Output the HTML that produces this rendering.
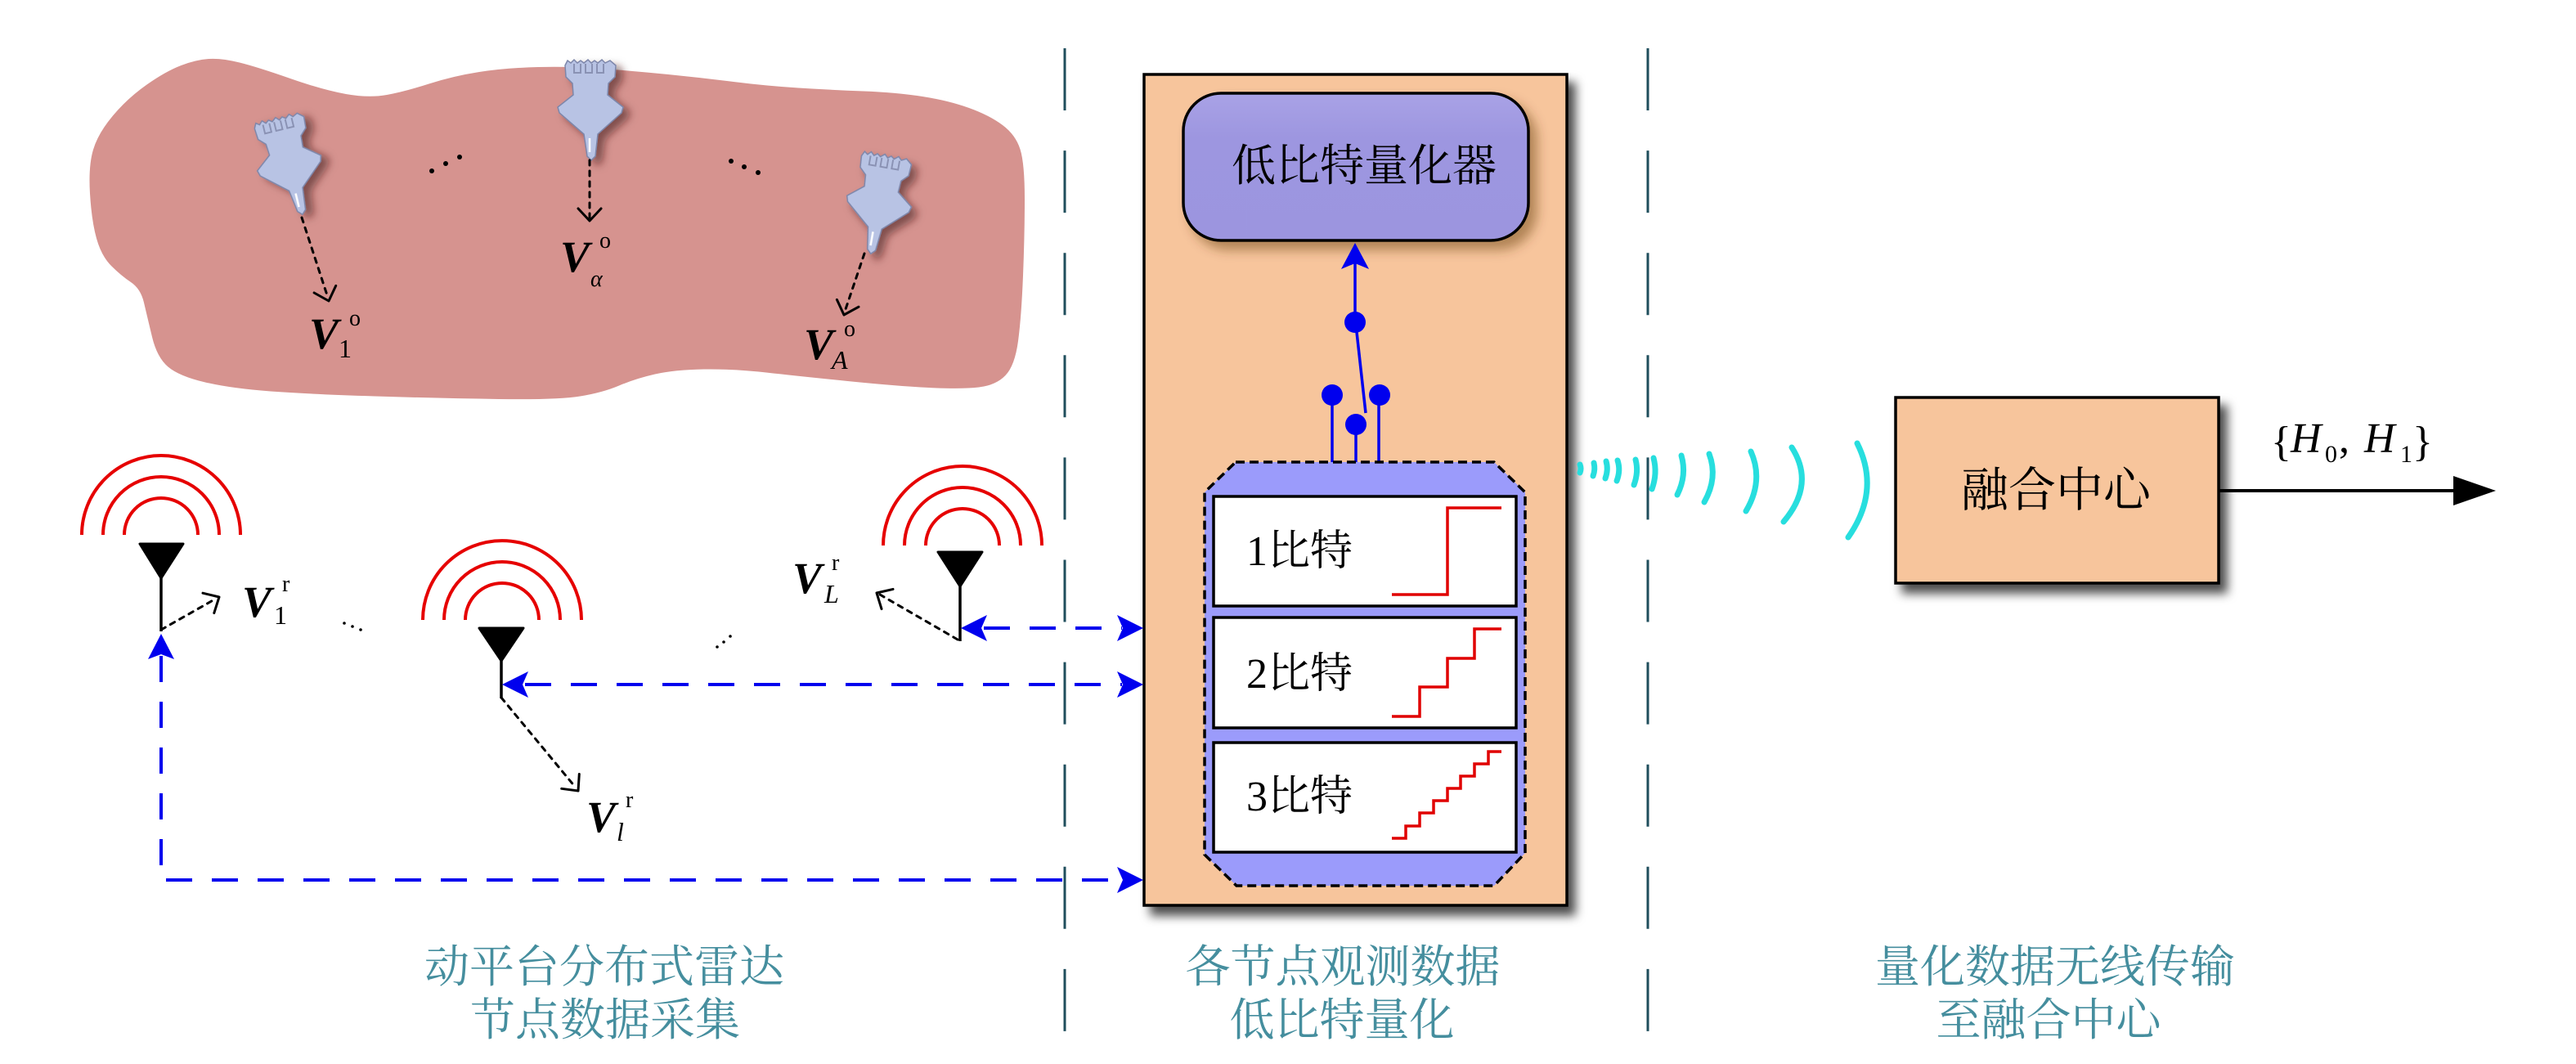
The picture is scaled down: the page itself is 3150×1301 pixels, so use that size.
<!DOCTYPE html>
<html><head><meta charset="utf-8"><style>
html,body{margin:0;padding:0;background:#fff;}
svg{display:block;}
.cjk{font-family:"Liberation Serif","Noto Serif CJK SC",serif;}
.vb{font-family:"Liberation Serif",serif;font-weight:bold;font-style:italic;font-size:54px;}
.sm{font-family:"Liberation Serif",serif;font-size:32px;}
.smi{font-family:"Liberation Serif",serif;font-size:32px;font-style:italic;}
.cap{font-family:"Liberation Serif","Noto Serif CJK SC",serif;font-size:55px;fill:#458e9e;}
</style></head><body>
<svg width="3150" height="1301" viewBox="0 0 3150 1301" xmlns="http://www.w3.org/2000/svg">
<defs>
<filter id="psh" x="-60%" y="-40%" width="220%" height="180%"><feDropShadow dx="8" dy="6" stdDeviation="5" flood-color="#3a1414" flood-opacity="0.55"/></filter>
<filter id="bsh" x="-10%" y="-10%" width="125%" height="125%"><feDropShadow dx="9" dy="11" stdDeviation="6" flood-color="#000" flood-opacity="0.7"/></filter>
<filter id="rsh" x="-10%" y="-20%" width="125%" height="150%"><feDropShadow dx="9" dy="10" stdDeviation="7" flood-color="#5a3010" flood-opacity="0.45"/></filter>
<linearGradient id="rg" x1="0" y1="0" x2="0" y2="1"><stop offset="0" stop-color="#a9a2e6"/><stop offset="0.3" stop-color="#9d96e0"/><stop offset="1" stop-color="#9c95df"/></linearGradient>
</defs>

<!-- blob -->
<path fill="#d6938f" d="M255.5,72 Q271,71 293,76.5 Q315,82 355,96 Q395,110 423,115 Q451,120 473,116 Q495,112 524.5,102.5 Q554,93 586,88 Q618,83 658,82 Q698,81 737.5,84 Q777,87 817,91 Q857,95 897,100 Q937,105 976.5,107.5 Q1016,110 1056,111.5 Q1096,113 1128,118 Q1160,123 1185,132 Q1210,141 1226,153 Q1242,165 1247.5,182.5 Q1253,200 1253,243.5 Q1253,287 1251,337 Q1249,387 1245,417 Q1241,447 1229.5,459 Q1218,471 1197,473.5 Q1176,476 1136,474 Q1096,472 1036.5,466 Q977,460 937,455.5 Q897,451 861,451.5 Q825,452 801,457.5 Q777,463 757,471.5 Q737,480 709.5,484.5 Q682,489 610,488 Q538,487 458.5,484.5 Q379,482 331,478.5 Q283,475 251,467.5 Q219,460 205.5,448.5 Q192,437 186,412 Q180,387 176,370 Q172,353 160,345 Q148,337 136,325 Q124,313 118,291.5 Q112,270 110,236.5 Q108,203 114,183 Q120,163 138,141.5 Q156,120 179.5,103.5 Q203,87 221.5,80 Q240,73 255.5,72 Z"/>

<!-- aircraft -->
<g transform="translate(340,144) rotate(-13.7)" filter="url(#psh)">
<path d="M-31,6 L-28,0 L-24,3 L-20,-1 L-16,3 L-12,0 L-8,3 L-3,-1 L1,3 L5,0 L9,3 L14,-1 L18,3 L24,0 L31,6 L30,20 L22,28 L21,42 L40,57 L38,64 L9,90 L6,117 L1,122 L-4,117 L-8,90 L-38,64 L-40,57 L-21,42 L-22,28 L-30,20 Z" fill="#b8c3e4" stroke="#7d86aa" stroke-width="1.5"/>
<path d="M-20,4 V15 H-12 V4 M-6,4 V15 H2 V4 M8,4 V15 H16 V4" fill="none" stroke="#8a92b4" stroke-width="2"/>
<line x1="-1" y1="95" x2="-1" y2="112" stroke="#fff" stroke-width="2.5"/>
</g>
<g transform="translate(722,74)" filter="url(#psh)">
<path d="M-31,6 L-28,0 L-24,3 L-20,-1 L-16,3 L-12,0 L-8,3 L-3,-1 L1,3 L5,0 L9,3 L14,-1 L18,3 L24,0 L31,6 L30,20 L22,28 L21,42 L40,57 L38,64 L9,90 L6,117 L1,122 L-4,117 L-8,90 L-38,64 L-40,57 L-21,42 L-22,28 L-30,20 Z" fill="#b8c3e4" stroke="#7d86aa" stroke-width="1.5"/>
<path d="M-20,4 V15 H-12 V4 M-6,4 V15 H2 V4 M8,4 V15 H16 V4" fill="none" stroke="#8a92b4" stroke-width="2"/>
<line x1="-1" y1="95" x2="-1" y2="112" stroke="#fff" stroke-width="2.5"/>
</g>
<g transform="translate(1085,190) rotate(10)" filter="url(#psh)">
<path d="M-31,6 L-28,0 L-24,3 L-20,-1 L-16,3 L-12,0 L-8,3 L-3,-1 L1,3 L5,0 L9,3 L14,-1 L18,3 L24,0 L31,6 L30,20 L22,28 L21,42 L40,57 L38,64 L9,90 L6,117 L1,122 L-4,117 L-8,90 L-38,64 L-40,57 L-21,42 L-22,28 L-30,20 Z" fill="#b8c3e4" stroke="#7d86aa" stroke-width="1.5"/>
<path d="M-20,4 V15 H-12 V4 M-6,4 V15 H2 V4 M8,4 V15 H16 V4" fill="none" stroke="#8a92b4" stroke-width="2"/>
<line x1="-1" y1="95" x2="-1" y2="112" stroke="#fff" stroke-width="2.5"/>
</g>

<!-- aircraft dotted arrows -->
<g fill="none" stroke="#000" stroke-width="3" stroke-linecap="round" stroke-linejoin="round">
<line x1="369" y1="266" x2="401" y2="364" stroke-dasharray="6 7"/>
<polyline points="410.7,349.4 402,368 384.1,358"/>
<line x1="721" y1="196" x2="721" y2="266" stroke-dasharray="6 7"/>
<polyline points="735,255 721,270 707,255"/>
<line x1="1057" y1="310" x2="1033" y2="381" stroke-dasharray="6 7"/>
<polyline points="1050,375.2 1032,385 1023.4,366.4"/>
<!-- radar dotted arrows -->
<line x1="197" y1="770" x2="264" y2="732" stroke-dasharray="6 7"/>
<polyline points="261.8,749.6 268,730 248,725.2"/>
<line x1="613" y1="853" x2="704" y2="963" stroke-dasharray="6 7"/>
<polyline points="708.3,946.5 707,967 686.7,964.3"/>
<line x1="1171" y1="782" x2="1076" y2="727" stroke-dasharray="6 7"/>
<polyline points="1092,720.4 1072,725 1078,744.6"/>
</g>

<!-- ellipsis dots -->
<g fill="#000">
<circle cx="528" cy="209" r="3"/><circle cx="545" cy="200" r="3"/><circle cx="562" cy="192" r="3"/>
<circle cx="894" cy="197" r="3"/><circle cx="910" cy="204" r="3"/><circle cx="927" cy="211" r="3"/>
<circle cx="421" cy="762" r="1.8"/><circle cx="431" cy="766" r="1.8"/><circle cx="441" cy="770" r="1.8"/>
<circle cx="877" cy="791" r="1.8"/><circle cx="885" cy="785" r="1.8"/><circle cx="893" cy="778" r="1.8"/>
</g>

<!-- V labels aircraft -->
<text class="vb" x="378" y="426">V</text><text class="sm" x="414" y="437">1</text><text class="sm" x="427" y="398" style="font-size:28px">o</text>
<text class="vb" x="685" y="332">V</text><text class="smi" x="722" y="350" style="font-size:28px">α</text><text class="sm" x="733" y="303" style="font-size:28px">o</text>
<text class="vb" x="983" y="439">V</text><text class="smi" x="1017" y="451">A</text><text class="sm" x="1032" y="411" style="font-size:28px">o</text>
<!-- V labels radar -->
<text class="vb" x="296" y="754">V</text><text class="sm" x="335" y="763">1</text><text class="sm" x="345" y="723" style="font-size:28px">r</text>
<text class="vb" x="717" y="1017">V</text><text class="smi" x="754" y="1028">l</text><text class="sm" x="765" y="987" style="font-size:28px">r</text>
<text class="vb" x="969" y="725">V</text><text class="smi" x="1008" y="737">L</text><text class="sm" x="1017" y="697" style="font-size:28px">r</text>

<!-- radar antennas -->
<g fill="none" stroke="#e60000" stroke-width="4">
<path d="M100,654 A97,97 0 0 1 294,654 M126,654 A71,71 0 0 1 268,654 M152,654 A45,45 0 0 1 242,654"/>
<path d="M517,758 A97,97 0 0 1 711,758 M543,758 A71,71 0 0 1 685,758 M569,758 A45,45 0 0 1 659,758"/>
<path d="M1080,667 A97,97 0 0 1 1274,667 M1106,667 A71,71 0 0 1 1248,667 M1132,667 A45,45 0 0 1 1222,667"/>
</g>
<g fill="#000" stroke="#000" stroke-width="3" stroke-linejoin="round">
<polygon points="171,665 224,665 197,707"/>
<polygon points="586,768 640,768 613,808"/>
<polygon points="1147,675 1201,675 1174,717"/>
</g>
<g stroke="#000" stroke-width="3.5">
<line x1="197" y1="706" x2="197" y2="772"/>
<line x1="613" y1="806" x2="613" y2="854"/>
<line x1="1174" y1="715" x2="1174" y2="784"/>
</g>

<!-- teal separators -->
<g stroke="#1f4e5c" stroke-width="3" stroke-dasharray="76 49.1">
<line x1="1302" y1="59" x2="1302" y2="1262"/>
<line x1="2015" y1="59" x2="2015" y2="1262"/>
</g>

<!-- orange box -->
<rect x="1399" y="91" width="517" height="1016" fill="#f7c59c" stroke="#000" stroke-width="3.5" filter="url(#bsh)"/>

<!-- quantizer rounded box -->
<rect x="1447" y="114" width="422" height="180" rx="46" ry="46" fill="url(#rg)" stroke="#000" stroke-width="3.5" filter="url(#rsh)"/>
<text class="cjk" x="1668" y="221" text-anchor="middle" style="font-size:54px">低比特量化器</text>

<!-- switch -->
<g stroke="#0000ee" stroke-width="3.5" fill="none">
<line x1="1657" y1="394" x2="1657" y2="318"/>
<line x1="1659" y1="406" x2="1670" y2="505"/>
<line x1="1629" y1="483" x2="1629" y2="565"/>
<line x1="1658" y1="519" x2="1658" y2="565"/>
<line x1="1686" y1="483" x2="1686" y2="565"/>
</g>
<g fill="#0000ee">
<path d="M1657,297 L1674,329 L1657,322 L1640,329 Z"/>
<ellipse cx="1657" cy="394" rx="13" ry="13"/>
<ellipse cx="1629" cy="483" rx="13" ry="13"/>
<ellipse cx="1687" cy="483" rx="13" ry="13"/>
<ellipse cx="1658" cy="519" rx="13" ry="13"/>
</g>

<!-- octagon -->
<polygon points="1511,565 1827,565 1865,602 1865,1043 1827,1083 1512,1083 1473,1045 1473,602" fill="#9b9bfb" stroke="#000" stroke-width="3.5" stroke-dasharray="11 6"/>
<g fill="#fff" stroke="#000" stroke-width="3.5">
<rect x="1484" y="607" width="370" height="134"/>
<rect x="1484" y="755" width="370" height="135"/>
<rect x="1484" y="908" width="370" height="134"/>
</g>
<text class="cjk" x="1524" y="691" style="font-size:52px">1比特</text>
<text class="cjk" x="1524" y="841" style="font-size:52px">2比特</text>
<text class="cjk" x="1524" y="991" style="font-size:52px">3比特</text>
<g fill="none" stroke="#e00000" stroke-width="3.5">
<polyline points="1702,727 1770,727 1770,621 1836,621"/>
<polyline points="1702,876 1736,876 1736,840 1770,840 1770,805 1803,805 1803,769 1836,769"/>
<polyline points="1702,1025 1719,1025 1719,1010 1736,1010 1736,994 1753,994 1753,979 1770,979 1770,964 1786,964 1786,949 1803,949 1803,934 1820,934 1820,919 1836,919"/>
</g>

<!-- blue dashed connections -->
<g fill="none" stroke="#0000ee" stroke-width="4" stroke-dasharray="32 24">
<line x1="1203" y1="768" x2="1372" y2="768"/>
<line x1="642" y1="837" x2="1372" y2="837"/>
<polyline points="197,802 197,1076 1372,1076"/>
</g>
<g fill="#0000ee">
<path d="M1175,768 L1207,752 L1200,768 L1207,784 Z"/>
<path d="M1398,768 L1366,752 L1373,768 L1366,784 Z"/>
<path d="M614,837 L646,821 L639,837 L646,853 Z"/>
<path d="M1398,837 L1366,821 L1373,837 L1366,853 Z"/>
<path d="M197,775 L213,806 L197,800 L181,806 Z"/>
<path d="M1398,1076 L1366,1060 L1373,1076 L1366,1092 Z"/>
</g>

<!-- cyan waves -->
<g fill="none" stroke="#27dede" stroke-width="7" stroke-linecap="round">
<path d="M1932,568 Q1934,573 1932,578"/>
<path d="M1949,566 Q1951,574 1948,582"/>
<path d="M1964,564 Q1967,574 1963,585"/>
<path d="M1978,563 Q1982,575 1977,588"/>
<path d="M2000,562 Q2004,577 1998,593"/>
<path d="M2022,560 Q2027,579 2020,598"/>
<path d="M2056,557 Q2063,581 2051,605"/>
<path d="M2090,555 Q2101,584 2084,614"/>
<path d="M2141,552 Q2157,588 2135,625"/>
<path d="M2191,547 Q2220,592 2181,638"/>
<path d="M2271,542 Q2300,600 2260,657"/>
</g>

<!-- fusion center -->
<rect x="2318" y="486" width="395" height="227" fill="#f7c59c" stroke="#000" stroke-width="3.5" filter="url(#bsh)"/>
<text class="cjk" x="2514" y="619" text-anchor="middle" style="font-size:58px">融合中心</text>
<line x1="2713" y1="600" x2="3004" y2="600" stroke="#000" stroke-width="4"/>
<path d="M3052,600 L3000,582 L3000,618 Z" fill="#000"/>
<g font-family="Liberation Serif, serif">
<text x="2777" y="557" font-size="52">{</text>
<text x="2801" y="553" font-size="52" font-style="italic">H</text>
<text x="2843" y="565" font-size="30">0</text>
<text x="2860" y="553" font-size="52">,</text>
<text x="2891" y="553" font-size="52" font-style="italic">H</text>
<text x="2935" y="565" font-size="30">1</text>
<text x="2950" y="557" font-size="52">}</text>
</g>

<!-- captions -->
<text class="cap" x="739" y="1201" text-anchor="middle">动平台分布式雷达</text>
<text class="cap" x="740" y="1266" text-anchor="middle">节点数据采集</text>
<text class="cap" x="1642" y="1201" text-anchor="middle">各节点观测数据</text>
<text class="cap" x="1641" y="1266" text-anchor="middle">低比特量化</text>
<text class="cap" x="2513" y="1201" text-anchor="middle">量化数据无线传输</text>
<text class="cap" x="2505" y="1266" text-anchor="middle">至融合中心</text>
</svg>
</body></html>
